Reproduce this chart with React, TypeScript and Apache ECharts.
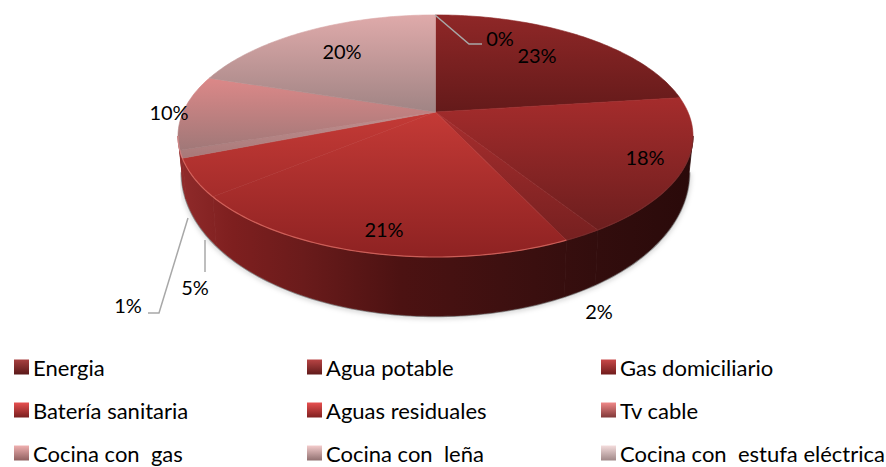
import React, { useEffect, useRef } from "react";
import * as echarts from "echarts";

const categories = ["Energia", "Agua potable", "Gas domiciliario", "Batería sanitaria", "Aguas residuales", "Tv cable", "Cocina con  gas", "Cocina con  leña", "Cocina con  estufa eléctrica"];
const values = [23, 18, 2, 21, 5, 1, 10, 20, 0];
const topColors = [["#8f2727", "#641a1a"], ["#a52c2c", "#6c1e1e"], ["#a82e2e", "#762020"], ["#c43a36", "#8e2222"], ["#c43a36", "#8e2222"], ["#c09090", "#a87878"], ["#dc8888", "#a07878"], ["#dfaaaa", "#a08484"], ["#e0bcbc", "#b0a0a0"]];
const legendColors = [["#a84040", "#5a1818"], ["#b84444", "#601a1a"], ["#c84848", "#701c1c"], ["#e85050", "#781e1e"], ["#e85050", "#801f1f"], ["#f08888", "#803838"], ["#f0b0b0", "#906060"], ["#f4cccc", "#907070"], ["#f4dcdc", "#a08888"]];
const rimColors = ["#8f4040", "#7a2c2c", "#7a2c2c", "#e07068", "#e07068", "#e08080", "#e09090", "#d0a0a0", "#d0a0a0"];
const labelPos = [[537, 55], [645, 157], [599, 311], [384, 229], [195, 287], [128, 305], [169, 112], [342, 51], [500, 38]];
const leaders: Record<number, number[][]> = {
  8: [[435, 15], [469, 44], [482, 44]],
  4: [[205, 240], [205, 272]],
  5: [[188, 218], [159, 313], [148, 313]],
};

const legendColumns = [
  { left: 14, names: [0, 3, 6] },
  { left: 307, names: [1, 4, 7] },
  { left: 601, names: [2, 5, 8] },
];

const FONT = "Lato, 'Open Sans', sans-serif";
const CX = 435.5, CY = 112, A = 252.4, B = 116.3, K = 0.198, DEPTH = 59;
const VIS_A = Math.acos(-K), VIS_B = 2 * Math.PI - VIS_A;

function project(t: number): number[] {
  const u = Math.sin(t), v = -Math.cos(t), w = 1 - K * v;
  return [CX + (A * u) / w, CY + (B * v) / w];
}
function projectBottom(t: number): number[] {
  const p = project(t), v = -Math.cos(t);
  return [CX + (p[0] - CX) * 0.985, p[1] + DEPTH * (0.52 + 0.48 * Math.max(v, 0))];
}
function arc(a: number, b: number, f: (t: number) => number[]): number[][] {
  const n = Math.max(2, Math.ceil((b - a) / 0.02));
  const out: number[][] = [];
  for (let i = 0; i <= n; i++) out.push(f(a + ((b - a) * i) / n));
  return out;
}

const total = values.reduce((s, v) => s + v, 0);
const starts: number[] = [];
values.reduce((s, v, i) => ((starts[i] = s), s + v), 0);

const wallFill = new echarts.graphic.LinearGradient(182, 0, 690, 0, [
  { offset: 0, color: "#8f2a2a" },
  { offset: 0.1, color: "#7e1f1f" },
  { offset: 0.24, color: "#6a1b1b" },
  { offset: 0.43, color: "#4c1212" },
  { offset: 0.63, color: "#3e1010" },
  { offset: 0.82, color: "#320d0d" },
  { offset: 1, color: "#2a0a0a" },
], true);

function renderSlice(params: any, api: any) {
  const i = params.seriesIndex;
  const v = api.value(0);
  const a0 = (starts[i] / total) * 2 * Math.PI;
  const a1 = ((starts[i] + v) / total) * 2 * Math.PI;
  const children: any[] = [];
  if (v > 0) {
    const rim = arc(a0, a1, project);
    const ys = rim.map((p) => p[1]).concat(CY);
    const merged = i === 3 || i === 4;
    const fill = new echarts.graphic.LinearGradient(
      0, merged ? CY : Math.min(...ys), 0, merged ? 257 : Math.max(...ys),
      [
        { offset: 0, color: topColors[i][0] },
        { offset: 1, color: topColors[i][1] },
      ],
      true
    );
    children.push({
      type: "polygon",
      z2: 10 + i,
      shape: { points: [[CX, CY], ...rim] },
      style: { fill, stroke: fill, lineWidth: 0.6 },
    });
    const wa = Math.max(a0, VIS_A), wb = Math.min(a1, VIS_B);
    if (wb > wa) {
      const top = arc(wa, wb, project);
      const bot = arc(wa, wb, projectBottom);
      children.push({
        type: "polyline",
        z2: 1,
        shape: { points: bot },
        style: { fill: "none", stroke: "rgba(70,70,70,0.55)", lineWidth: 2.5, shadowBlur: 5, shadowColor: "rgba(0,0,0,0.5)", shadowOffsetY: 1 },
      });
      children.push({
        type: "polygon",
        z2: 5,
        shape: { points: [...top, ...bot.slice().reverse()] },
        style: { fill: wallFill, stroke: wallFill, lineWidth: 0.8 },
      });
      children.push({
        type: "polyline",
        z2: 40,
        shape: { points: top },
        style: { fill: "none", stroke: rimColors[i], lineWidth: 1.2, opacity: 0.75 },
      });
    }
  }
  if (leaders[i]) {
    children.push({
      type: "polyline",
      z2: 50,
      shape: { points: leaders[i] },
      style: { fill: "none", stroke: "#a8a8a8", lineWidth: 1.5 },
    });
  }
  children.push({
    type: "text",
    z2: 60,
    x: labelPos[i][0],
    y: labelPos[i][1],
    style: { text: `${v}%`, fill: "#000", font: `20px ${FONT}`, align: "center", verticalAlign: "middle" },
  });
  return { type: "group", children };
}

export default function App() {
  const ref = useRef<HTMLDivElement>(null);
  useEffect(() => {
    document.body.style.margin = "0";
    const chart = echarts.init(ref.current!, null, { renderer: "svg" });
    chart.setOption({
      animation: false,
      backgroundColor: "#fff",
      legend: legendColumns.map((c) => ({
        left: c.left,
        top: 356,
        height: 150,
        width: 285,
        orient: "vertical",
        padding: 0,
        itemGap: 21,
        itemWidth: 15,
        itemHeight: 15,
        selectedMode: false,
        icon: "rect",
        textStyle: { fontFamily: FONT, fontSize: 22, color: "#000", padding: [0, 0, 0, -1] },
        data: c.names.map((n) => ({
          name: categories[n],
          itemStyle: {
            color: new echarts.graphic.LinearGradient(0, 0, 0, 1, [
              { offset: 0, color: legendColors[n][0] },
              { offset: 1, color: legendColors[n][1] },
            ]),
          },
        })),
      })),
      series: categories.map((name, i) => ({
        type: "custom",
        name,
        coordinateSystem: "none",
        renderItem: renderSlice,
        data: [[values[i]]],
        silent: true,
      })),
    });
    return () => chart.dispose();
  }, []);
  return <div ref={ref} style={{ position: "absolute", left: 0, top: 0, width: 886, height: 467 }} />;
}
